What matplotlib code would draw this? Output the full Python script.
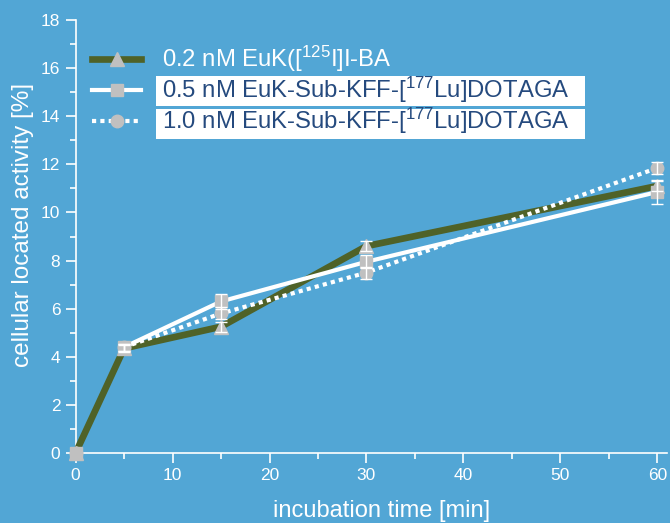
import matplotlib
matplotlib.use("Agg")
import matplotlib.pyplot as plt
from matplotlib.patches import Rectangle
from matplotlib.lines import Line2D
from matplotlib.ticker import MultipleLocator

plt.rcParams['font.family'] = ['Liberation Sans', 'DejaVu Sans']
plt.rcParams['mathtext.fontset'] = 'custom'
plt.rcParams['mathtext.rm'] = 'Liberation Sans'

time = [0, 5, 15, 30, 60]
euk_ba = [0.0, 4.35, 5.25, 8.6, 11.1]
euk_ba_err = [0.0, 0.15, 0.2, 0.22, 0.2]
kff_05 = [0.0, 4.4, 6.3, 7.95, 10.85]
kff_05_err = [0.0, 0.15, 0.3, 0.27, 0.48]
kff_10 = [0.0, 4.4, 5.8, 7.5, 11.85]
kff_10_err = [0.0, 0.15, 0.25, 0.25, 0.25]

labels = [r'0.2 nM EuK([$\mathregular{^{125}}$I]I-BA',
          r'0.5 nM EuK-Sub-KFF-[$\mathregular{^{177}}$Lu]DOTAGA',
          r'1.0 nM EuK-Sub-KFF-[$\mathregular{^{177}}$Lu]DOTAGA']

bg = '#52A6D5'
green = '#4F6228'
gray = '#C0C0C0'
dark = '#254A7E'

W, H = 670, 523
fig = plt.figure(figsize=(W/100, H/100), dpi=100)
fig.patch.set_facecolor(bg)
ax = fig.add_axes([75.6/W, 1-453/H, (667-75.6)/W, (453-20)/H])
ax.set_facecolor(bg)

line_kw = [dict(color=green, lw=4.8, marker='^', ms=10),
           dict(color='white', lw=3, marker='s', ms=9),
           dict(color='white', lw=3, ls=(0, (1, 1)), marker='o', ms=9)]

ax.plot(time, euk_ba, mfc=gray, mec=gray, zorder=3, clip_on=False, **line_kw[0])
# white series: lines drawn from the first measured time on
ax.plot(time[1:], kff_05[1:], mfc=gray, mec=gray, zorder=4, clip_on=False, **line_kw[1])
ax.plot(time[1:], kff_10[1:], mfc=gray, mec=gray, zorder=5, clip_on=False, **line_kw[2])
ax.plot(time[:1], kff_05[:1], ls='none', marker='s', ms=9, mfc=gray, mec=gray, zorder=4, clip_on=False)
ax.plot(time[:1], kff_10[:1], ls='none', marker='o', ms=9, mfc=gray, mec=gray, zorder=5, clip_on=False)
for y, e in [(euk_ba, euk_ba_err), (kff_05, kff_05_err), (kff_10, kff_10_err)]:
    ax.errorbar(time[1:], y[1:], yerr=e[1:], fmt='none', ecolor='white', elinewidth=1.0, capsize=4, capthick=1.0, zorder=6)

ax.set_xlim(0, 61)
ax.set_ylim(0, 18)
ax.xaxis.set_major_locator(MultipleLocator(10))
ax.xaxis.set_minor_locator(MultipleLocator(5))
ax.yaxis.set_major_locator(MultipleLocator(2))
ax.yaxis.set_minor_locator(MultipleLocator(1))
for s in ['top', 'right']:
    ax.spines[s].set_visible(False)
for s in ['left', 'bottom']:
    ax.spines[s].set_color('white')
    ax.spines[s].set_linewidth(1.2)
ax.tick_params(which='both', direction='out', colors='white', labelsize=12.5, width=1.2)
ax.tick_params(which='major', length=7, pad=4)
ax.tick_params(which='minor', length=4)
ax.set_xlabel('incubation time [min]', color='white', fontsize=17, labelpad=12)
ax.xaxis.label.set_x((381.5-75.6)/(667-75.6))
ax.set_ylabel('cellular located activity [%]', color='white', fontsize=17.5, labelpad=5)
ax.yaxis.label.set_y((453-225)/433)

# legend (manual layout, pixel positions)
def fx(px):
    return px / W
def fy(py):
    return 1 - py / H

baselines = [66.7, 97.7, 128.7]
for (y0, y1) in [(76, 106), (109, 139)]:
    fig.add_artist(Rectangle((fx(155.5), fy(y1)), fx(585) - fx(155.5), fy(y0) - fy(y1),
                             transform=fig.transFigure, facecolor='white', edgecolor='none', zorder=5))
for i, (kw, lab, bl) in enumerate(zip(line_kw, labels, baselines)):
    yc = bl - 7.5
    fig.add_artist(Line2D([fx(92), fx(141)], [fy(yc), fy(yc)], transform=fig.transFigure,
                          mfc=gray, mec=gray, markevery=[], zorder=6, **kw))
    fig.add_artist(Line2D([fx(116.5)], [fy(yc)], transform=fig.transFigure, ls='none',
                          marker=kw['marker'], ms=kw['ms'], mfc=gray, mec=gray, zorder=7))
    fig.text(fx(161.7), fy(bl), lab, fontsize=17.2, va='baseline', ha='left',
             color='white' if i == 0 else dark, zorder=8)

fig.savefig('out.png', dpi=100, facecolor=bg)
